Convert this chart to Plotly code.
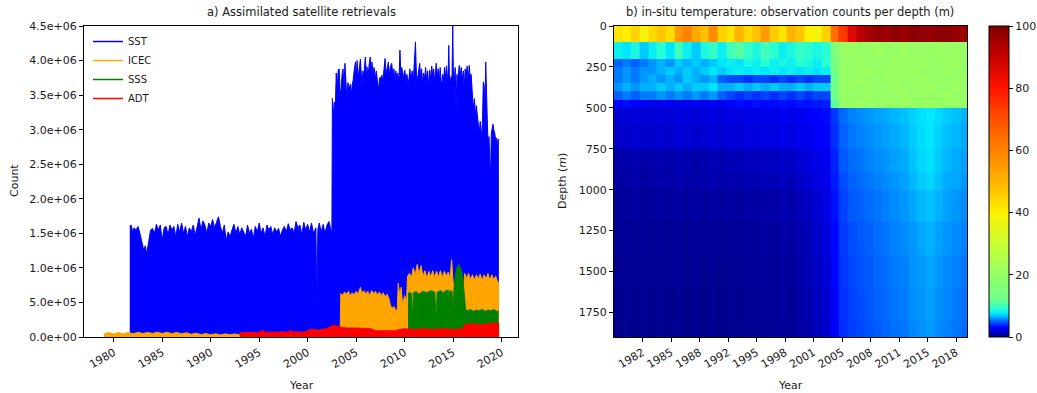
import plotly.graph_objects as go

W, H = 1037, 393

# ---------------- data: panel a (counts, in millions) ----------------
SST_T = [1981.65, 1981.8, 1981.95, 1982.1, 1982.3, 1982.5, 1982.7, 1982.9, 1983.1, 1983.25, 1983.4, 1983.6,
         1983.8, 1984.0, 1984.2, 1984.4, 1984.6, 1984.8, 1985.0, 1985.2, 1985.4, 1985.6, 1985.8, 1986.0,
         1986.2, 1986.4, 1986.6, 1986.8, 1987.0, 1987.2, 1987.4, 1987.6, 1987.8, 1988.0, 1988.2, 1988.4,
         1988.6, 1988.8, 1989.0, 1989.2, 1989.4, 1989.6, 1989.8, 1990.0, 1990.2, 1990.4, 1990.6, 1990.8,
         1991.0, 1991.2, 1991.4, 1991.6, 1991.8, 1992.0, 1992.2, 1992.4, 1992.6, 1992.8, 1993.0, 1993.2,
         1993.4, 1993.6, 1993.8, 1994.0, 1994.2, 1994.4, 1994.6, 1994.8, 1995.0, 1995.2, 1995.4, 1995.6,
         1995.8, 1996.0, 1996.2, 1996.4, 1996.6, 1996.8, 1997.0, 1997.2, 1997.4, 1997.6, 1997.8, 1998.0,
         1998.2, 1998.4, 1998.6, 1998.8, 1999.0, 1999.2, 1999.4, 1999.6, 1999.8, 2000.0, 2000.2, 2000.4,
         2000.6, 2000.85, 2000.95, 2001.05, 2001.2, 2001.4, 2001.6, 2001.8, 2002.0, 2002.2, 2002.4, 2002.5,
         2002.55, 2002.65, 2002.75, 2002.85, 2002.95, 2003.05, 2003.15, 2003.25, 2003.35, 2003.45, 2003.55,
         2003.65, 2003.75, 2003.85, 2003.95, 2004.05, 2004.15, 2004.3, 2004.42, 2004.5, 2004.6, 2004.7,
         2004.8, 2004.93, 2005.02, 2005.1, 2005.2, 2005.3, 2005.44, 2005.52, 2005.61, 2005.7, 2005.8,
         2005.95, 2006.05, 2006.12, 2006.22, 2006.35, 2006.46, 2006.55, 2006.63, 2006.75, 2006.85, 2006.97,
         2007.08, 2007.2, 2007.31, 2007.4, 2007.48, 2007.58, 2007.65, 2007.75, 2007.85, 2007.99, 2008.08,
         2008.2, 2008.33, 2008.42, 2008.52, 2008.67, 2008.78, 2008.9, 2009.0, 2009.1, 2009.18, 2009.3,
         2009.42, 2009.52, 2009.62, 2009.72, 2009.85, 2010.03, 2010.13, 2010.25, 2010.37, 2010.46, 2010.54,
         2010.65, 2010.78, 2010.9, 2011.0, 2011.12, 2011.22, 2011.3, 2011.39, 2011.48, 2011.56, 2011.66,
         2011.76, 2011.86, 2011.96, 2012.07, 2012.17, 2012.28, 2012.38, 2012.48, 2012.59, 2012.7, 2012.8,
         2012.9, 2013.0, 2013.1, 2013.18, 2013.27, 2013.37, 2013.47, 2013.57, 2013.67, 2013.76, 2013.84,
         2013.93, 2014.03, 2014.12, 2014.22, 2014.32, 2014.42, 2014.5, 2014.56, 2014.62, 2014.7, 2014.8,
         2014.9, 2014.97, 2015.03, 2015.12, 2015.22, 2015.31, 2015.4, 2015.5, 2015.58, 2015.65, 2015.75,
         2015.85, 2015.95, 2016.05, 2016.15, 2016.25, 2016.35, 2016.45, 2016.55, 2016.67, 2016.77, 2016.87,
         2017.01, 2017.1, 2017.2, 2017.3, 2017.4, 2017.52, 2017.6, 2017.7, 2017.8, 2017.88, 2017.96,
         2018.05, 2018.12, 2018.2, 2018.3, 2018.37, 2018.45, 2018.55, 2018.63, 2018.71, 2018.8, 2018.88,
         2018.95, 2019.05, 2019.12, 2019.2, 2019.3, 2019.39, 2019.5, 2019.6, 2019.73]
SST_V = [1.60, 1.62, 1.52, 1.58, 1.55, 1.60, 1.50, 1.35, 1.25, 1.32, 1.20, 1.38,
         1.55, 1.57, 1.50, 1.63, 1.55, 1.62, 1.40, 1.58, 1.60, 1.48, 1.62, 1.55,
         1.60, 1.45, 1.63, 1.52, 1.65, 1.50, 1.60, 1.45, 1.58, 1.52, 1.62, 1.47,
         1.58, 1.72, 1.55, 1.68, 1.62, 1.50, 1.65, 1.60, 1.70, 1.58, 1.66, 1.74,
         1.60, 1.50, 1.62, 1.40, 1.52, 1.45, 1.55, 1.63, 1.50, 1.60, 1.48, 1.58,
         1.52, 1.45, 1.62, 1.50, 1.56, 1.43, 1.60, 1.52, 1.65, 1.50, 1.58, 1.45,
         1.62, 1.55, 1.60, 1.48, 1.58, 1.52, 1.57, 1.46, 1.55, 1.60, 1.52, 1.64,
         1.55, 1.58, 1.50, 1.67, 1.58, 1.62, 1.48, 1.66, 1.55, 1.63, 1.52, 1.65,
         1.50, 1.58, 0.40, 1.55, 1.65, 1.52, 1.63, 1.50, 1.62, 1.67, 1.55, 1.50,
         3.45, 3.22, 3.40, 3.30, 3.82, 3.60, 3.86, 3.88, 3.55, 3.57, 3.80,
         3.88, 3.62, 3.96, 3.70, 3.43, 3.68, 3.60, 3.66, 3.50, 3.65, 3.72,
         3.85, 3.98, 3.75, 4.00, 3.78, 3.85, 4.02, 3.80, 3.62, 3.85, 3.78,
         4.05, 3.80, 3.91, 3.75, 3.95, 4.05, 3.82, 3.98, 3.80, 3.90, 3.74,
         3.85, 3.70, 3.57, 3.72, 3.76, 3.65, 3.79, 3.70, 3.88, 4.03, 3.80,
         3.92, 3.98, 3.78, 3.90, 3.96, 3.80, 3.88, 3.70, 3.85, 3.74, 3.82,
         3.68, 4.15, 3.80, 3.90, 3.75, 3.86, 3.72, 3.80, 3.64, 3.75, 3.88,
         3.72, 3.85, 3.70, 3.90, 4.27, 3.80, 3.70, 3.79, 3.86, 3.96, 3.75,
         3.88, 3.66, 3.82, 3.74, 3.90, 3.70, 3.85, 3.62, 3.86, 3.72, 3.92,
         3.78, 3.88, 3.70, 3.82, 3.96, 3.75, 3.88, 3.70, 3.90, 3.72, 3.62,
         3.80, 3.72, 3.90, 3.75, 3.92, 3.70, 3.85, 4.22, 3.80, 3.75, 3.69,
         3.80, 4.50, 3.85, 3.70, 3.90, 3.28, 3.80, 3.72, 3.86, 3.93, 3.78,
         3.90, 3.70, 3.85, 3.60, 3.88, 3.75, 3.92, 3.70, 3.93, 3.75, 3.80,
         3.47, 3.30, 3.45, 3.20, 3.35, 3.18, 3.10, 2.95, 3.12, 3.00, 2.89,
         3.20, 3.69, 3.65, 3.40, 3.98, 3.30, 3.05, 2.75, 2.90, 2.50, 2.41,
         2.95, 3.04, 3.08, 3.00, 2.95, 2.85, 2.88, 2.80, 2.87]

ICEC_T = [1979.0, 1979.5, 1980.0, 1980.5, 1981.0, 1981.5, 1982.0, 1982.5, 1983.0, 1983.5, 1984.0, 1984.5,
          1985.0, 1985.5, 1986.0, 1986.5, 1987.0, 1987.5, 1988.0, 1988.5, 1989.0, 1989.5, 1990.0, 1990.5,
          1991.0, 1991.5, 1992.0, 1992.5, 1993.0, 1993.5, 1994.0, 1994.5, 1995.0, 1995.5, 1996.0, 1996.5,
          1997.0, 1997.5, 1998.0, 1998.5, 1999.0, 1999.5, 2000.0, 2000.5, 2001.0, 2001.5, 2002.0, 2002.5,
          2003.0, 2003.35, 2003.42, 2003.6, 2003.8, 2004.0, 2004.2, 2004.4, 2004.6, 2004.8, 2005.0, 2005.2,
          2005.45, 2005.6, 2005.8, 2006.0, 2006.2, 2006.4, 2006.6, 2006.8, 2007.0, 2007.2, 2007.4, 2007.6,
          2007.8, 2008.0, 2008.2, 2008.4, 2008.55, 2008.75, 2008.9, 2009.1, 2009.25, 2009.35, 2009.5, 2009.65,
          2009.8, 2010.0, 2010.2, 2010.3, 2010.5, 2010.7, 2010.9, 2011.1, 2011.3, 2011.5, 2011.7, 2011.9,
          2012.1, 2012.3, 2012.5, 2012.7, 2012.9, 2013.1, 2013.3, 2013.5, 2013.7, 2013.9, 2014.1, 2014.3,
          2014.5, 2014.7, 2014.85, 2014.95, 2015.1, 2015.4, 2015.6, 2015.8, 2016.0, 2016.2, 2016.4, 2016.6,
          2016.8, 2017.0, 2017.2, 2017.4, 2017.6, 2017.8, 2018.0, 2018.2, 2018.4, 2018.6, 2018.8, 2019.0,
          2019.2, 2019.4, 2019.6, 2019.75]
ICEC_V = [0.045, 0.065, 0.042, 0.066, 0.044, 0.064, 0.048, 0.068, 0.050, 0.066, 0.052, 0.070,
          0.050, 0.068, 0.048, 0.066, 0.045, 0.062, 0.040, 0.055, 0.035, 0.050, 0.032, 0.048,
          0.030, 0.046, 0.032, 0.045, 0.030, 0.044, 0.030, 0.042, 0.032, 0.045, 0.030, 0.044,
          0.032, 0.045, 0.030, 0.046, 0.032, 0.048, 0.035, 0.050, 0.040, 0.060, 0.045, 0.080,
          0.060, 0.050, 0.63, 0.60, 0.65, 0.62, 0.66, 0.60, 0.64, 0.61, 0.66, 0.62,
          0.72, 0.63, 0.67, 0.62, 0.66, 0.60, 0.67, 0.63, 0.66, 0.61, 0.65, 0.60,
          0.64, 0.58, 0.62, 0.55, 0.45, 0.42, 0.44, 0.38, 0.40, 0.78, 0.60, 0.72,
          0.45, 0.60, 0.50, 0.88, 0.92, 0.86, 1.00, 0.90, 1.05, 0.92, 1.03, 0.88,
          0.96, 0.85, 0.95, 0.87, 0.96, 0.86, 0.95, 0.87, 0.96, 0.86, 0.95, 0.88,
          0.94, 0.86, 1.12, 0.88, 0.62, 0.60, 0.55, 0.62, 0.58, 0.92, 0.85, 0.92,
          0.83, 0.90, 0.82, 0.90, 0.84, 0.91, 0.82, 0.90, 0.84, 0.92, 0.82, 0.90,
          0.83, 0.88, 0.80, 0.78]

SSS_T = [2010.35, 2010.5, 2010.7, 2010.8, 2010.9, 2011.2, 2011.45, 2011.5, 2011.55, 2011.9, 2012.3,
         2012.7, 2013.1, 2013.3, 2013.35, 2013.7, 2014.0, 2014.05, 2014.1, 2014.5, 2014.6, 2014.65,
         2014.9, 2015.0, 2015.1, 2015.3, 2015.45, 2015.6, 2015.75, 2015.9, 2016.0, 2016.15, 2016.3,
         2016.5, 2016.8, 2017.1, 2017.4, 2017.7, 2018.0, 2018.3, 2018.6, 2018.9, 2019.2, 2019.5, 2019.7]
SSS_V = [0.62, 0.65, 0.63, 0.15, 0.64, 0.66, 0.62, 0.10, 0.63, 0.66, 0.64,
         0.67, 0.65, 0.20, 0.65, 0.67, 0.64, 0.15, 0.66, 0.68, 0.10, 0.67,
         0.66, 0.20, 0.70, 0.95, 1.02, 1.05, 1.00, 0.95, 0.85, 0.60, 0.40,
         0.38, 0.40, 0.37, 0.39, 0.38, 0.40, 0.37, 0.39, 0.38, 0.40, 0.37, 0.38]

ADT_T = [1993.0, 1993.5, 1994.0, 1994.5, 1995.0, 1995.4, 1995.5, 1996.0, 1996.5, 1997.0, 1997.5, 1998.0,
         1998.3, 1998.4, 1999.0, 1999.5, 2000.0, 2000.05, 2000.5, 2001.0, 2001.5, 2002.0, 2002.3, 2002.8,
         2003.2, 2003.6, 2004.0, 2005.0, 2006.0, 2006.5, 2007.0, 2008.0, 2009.0, 2009.5, 2010.0, 2011.0,
         2012.0, 2013.0, 2014.0, 2015.0, 2016.0, 2016.2, 2017.0, 2018.0, 2019.0, 2019.75]
ADT_V = [0.060, 0.070, 0.065, 0.070, 0.065, 0.100, 0.070, 0.070, 0.065, 0.070, 0.075, 0.070,
         0.100, 0.070, 0.075, 0.070, 0.080, 0.100, 0.110, 0.100, 0.110, 0.120, 0.150, 0.170,
         0.150, 0.140, 0.130, 0.130, 0.130, 0.120, 0.090, 0.090, 0.090, 0.110, 0.120, 0.110,
         0.120, 0.110, 0.120, 0.110, 0.120, 0.180, 0.190, 0.180, 0.200, 0.200]

SERIES = [("SST", SST_T, SST_V, "#0000ff"),
          ("ICEC", ICEC_T, ICEC_V, "#ffa500"),
          ("SSS", SSS_T, SSS_V, "#008000"),
          ("ADT", ADT_T, ADT_V, "#ff0000")]

Y_TICKS = [0, 0.5e6, 1.0e6, 1.5e6, 2.0e6, 2.5e6, 3.0e6, 3.5e6, 4.0e6, 4.5e6]
Y_TICK_TEXT = ["0.0e+00", "5.0e+05", "1.0e+06", "1.5e+06", "2.0e+06", "2.5e+06",
               "3.0e+06", "3.5e+06", "4.0e+06", "4.5e+06"]
X_TICKS = [1980, 1985, 1990, 1995, 2000, 2005, 2010, 2015, 2020]

# ---------------- data: panel b (observation counts per depth) ----------------
HEAT_YEAR_EDGES = list(range(1979, 2021))          # 41 yearly columns
DEPTH_EDGES = [0, 100, 200, 250, 300, 350, 400, 450, 500, 600, 750, 900, 1000, 1200, 1400, 1600, 1800, 1900]

R_0_100 = [42, 40, 45, 38, 44, 47, 43, 55, 60, 52, 48, 58, 45, 42, 50, 44, 48, 55, 46, 42, 50, 47, 40, 38, 45,
           64, 74, 86, 92, 95, 97, 96, 98, 97, 99, 98, 97, 99, 98, 97, 96]
R_100_200 = [8, 7.5, 8.5, 7, 8, 9, 7.5, 10, 8, 7, 8.5, 9.5, 8, 10, 11, 9.5, 8.5, 10, 9, 8, 8.5, 9.5, 9, 8.5, 9,
             15, 20, 21, 20, 20, 21, 20, 20, 21, 20, 20, 20, 21, 20, 20, 20]
R_200_250 = [5, 5.5, 5, 5.5, 6, 6.5, 6, 7, 6.5, 7, 6.5, 7, 7.5, 8, 7.5, 8.5, 8, 9, 8, 8.5, 8, 9, 8.5, 8, 9,
             14, 20, 20, 21, 20, 20, 20, 21, 20, 20, 21, 20, 20, 20, 21, 20]
R_250_300 = [5.5, 6, 5.5, 6, 6, 6.5, 7, 6.5, 7, 6.5, 7, 7.5, 7, 7.5, 8, 7.5, 8, 7.5, 8, 7.5, 8, 7.5, 8, 7.5, 8,
             13, 20, 20, 20, 21, 20, 20, 20, 20, 21, 20, 20, 20, 21, 20, 20]
R_300_350 = [5.5, 6, 5.5, 6, 6.5, 6, 6.5, 6, 7, 6.5, 6, 6.5, 5, 4.5, 4.5, 4, 4.5, 4.5, 4, 4.5, 4, 4.5, 4, 4.5, 4.5,
             12, 20, 20, 21, 20, 20, 21, 20, 20, 20, 21, 20, 20, 20, 20, 21]
R_350_400 = [6, 6.5, 6, 6.5, 6.5, 7, 6.5, 7, 6.5, 7, 7, 7.5, 6.5, 6.5, 7, 6.5, 7, 6.5, 7, 6.5, 6.5, 7, 6.5, 7, 7,
             13, 20, 21, 20, 20, 20, 20, 21, 20, 20, 20, 21, 20, 20, 21, 20]
R_400_450 = [5, 5.5, 5, 5.5, 5.5, 6, 5.5, 6, 5.5, 6, 5.5, 6, 5, 4.5, 4, 4.5, 4, 4.5, 4, 4.5, 4, 4.5, 4, 4.5, 4.5,
             12, 20, 20, 20, 21, 20, 20, 20, 21, 20, 20, 20, 20, 21, 20, 20]
R_450_500 = [3, 3.2, 3, 2.8, 2.5, 2.5, 2.6, 2.4, 2.5, 2.6, 2.5, 2.7, 2.6, 3, 3.2, 3, 3.3, 3.1, 3.2, 3.3, 3.2, 3.4, 3.3, 3.5, 3.6,
             11, 20, 20, 21, 20, 20, 20, 20, 21, 20, 20, 21, 20, 20, 20, 20]
R_500_600 = [1.8, 1.9, 2, 1.8, 1.9, 2, 1.9, 2.1, 2, 1.9, 2, 2.1, 2, 2.2, 2.1, 2.3, 2.2, 2.4, 2.3, 2.5, 2.4, 2.6, 2.8, 3, 3.2,
             4.2, 5.2, 5.6, 5.8, 6, 6.2, 6.4, 6.6, 6.8, 7.1, 7.4, 7.6, 7.3, 7, 6.8, 6.6]
R_600_750 = [1.6, 1.7, 1.8, 1.6, 1.7, 1.8, 1.7, 1.9, 1.8, 1.7, 1.8, 1.9, 1.8, 2, 1.9, 2.1, 2, 2.2, 2.1, 2.3, 2.2, 2.4, 2.6, 2.8, 3,
             4, 5, 5.4, 5.6, 5.8, 6, 6.2, 6.4, 6.6, 7, 7.3, 7.5, 7.1, 6.8, 6.6, 6.4]
R_750_900 = [0.9, 1, 1.1, 0.9, 1, 1.1, 1, 1.2, 1.1, 1, 1.1, 1.2, 1.1, 1.3, 1.2, 1.4, 1.3, 1.5, 1.4, 1.6, 1.5, 1.8, 2, 2.3, 2.6,
             3.7, 4.8, 5.2, 5.4, 5.6, 5.8, 6, 6.2, 6.4, 6.8, 7.2, 7.4, 7, 6.6, 6.4, 6.2]
R_900_1000 = [0.8, 0.9, 1, 0.8, 0.9, 1, 0.9, 1.1, 1, 0.9, 1, 1.1, 1, 1.1, 1, 1.2, 1.1, 1.3, 1.2, 1.4, 1.3, 1.6, 1.8, 2.1, 2.4,
              3.5, 4.6, 5, 5.2, 5.4, 5.6, 5.8, 6, 6.2, 6.6, 7, 7.2, 6.8, 6.4, 6.3, 6]
R_1000_1200 = [0.6, 0.7, 0.8, 0.6, 0.7, 0.8, 0.7, 0.8, 0.7, 0.8, 0.7, 0.8, 0.7, 0.8, 0.7, 0.9, 0.8, 1, 0.9, 1.1, 1, 1.3, 1.5, 1.8, 2.2,
               3.3, 4.4, 4.8, 5, 5.2, 5.4, 5.6, 5.8, 6, 6.3, 6.6, 6.8, 6.5, 6.2, 6, 5.8]
R_1200_1400 = [0.5, 0.6, 0.5, 0.6, 0.5, 0.6, 0.5, 0.6, 0.5, 0.6, 0.5, 0.6, 0.5, 0.6, 0.5, 0.7, 0.6, 0.8, 0.7, 0.9, 0.8, 1.1, 1.3, 1.6, 2,
               3.1, 4.2, 4.6, 4.8, 5, 5.2, 5.4, 5.6, 5.8, 6, 6.3, 6.5, 6.2, 6, 5.8, 5.6]
R_1400_1600 = [0.4, 0.5, 0.4, 0.5, 0.4, 0.5, 0.4, 0.5, 0.4, 0.5, 0.4, 0.5, 0.4, 0.5, 0.4, 0.6, 0.5, 0.7, 0.6, 0.8, 0.7, 1, 1.2, 1.5, 1.9,
               3, 4.1, 4.5, 4.7, 4.9, 5.1, 5.3, 5.5, 5.6, 5.9, 6.1, 6.3, 6, 5.8, 5.6, 5.4]
R_1600_1800 = [0.35, 0.45, 0.35, 0.45, 0.35, 0.45, 0.35, 0.45, 0.35, 0.45, 0.35, 0.45, 0.35, 0.45, 0.35, 0.55, 0.45, 0.6, 0.55, 0.7,
               0.6, 0.9, 1.1, 1.4, 1.8, 2.9, 4, 4.4, 4.6, 4.8, 5, 5.2, 5.4, 5.5, 5.8, 6, 6.2, 5.9, 5.7, 5.5, 5.3]
R_1800_1900 = [0.3, 0.4, 0.3, 0.4, 0.3, 0.4, 0.3, 0.4, 0.3, 0.4, 0.3, 0.4, 0.3, 0.4, 0.3, 0.5, 0.4, 0.5, 0.5, 0.6,
               0.5, 0.8, 1, 1.3, 1.7, 2.8, 3.9, 4.3, 4.5, 4.7, 4.9, 5.1, 5.3, 5.4, 5.7, 5.9, 6.1, 5.8, 5.6, 5.4, 5.2]

HEAT_Z = [R_0_100, R_100_200, R_200_250, R_250_300, R_300_350, R_350_400, R_400_450, R_450_500,
          R_500_600, R_600_750, R_750_900, R_900_1000, R_1000_1200, R_1200_1400, R_1400_1600,
          R_1600_1800, R_1800_1900]

HEAT_TICK_LABELS = ["1982", "1985", "1988", "1992", "1995", "1998", "2001", "2005", "2008", "2011", "2015", "2018"]
DEPTH_TICKS = [0, 250, 500, 750, 1000, 1250, 1500, 1750]
CBAR_TICKS = [0, 20, 40, 60, 80, 100]

# custom jet-like colorscale (compressed at the low end)
COLORSCALE = [
    [0.00, "rgb(0,0,128)"], [0.01, "rgb(0,0,170)"], [0.02, "rgb(0,0,220)"], [0.03, "rgb(0,0,255)"],
    [0.045, "rgb(0,70,255)"], [0.06, "rgb(0,150,255)"], [0.075, "rgb(0,230,255)"],
    [0.09, "rgb(40,255,210)"], [0.12, "rgb(110,255,140)"], [0.20, "rgb(150,255,100)"],
    [0.30, "rgb(200,255,50)"], [0.40, "rgb(255,240,0)"], [0.50, "rgb(255,180,0)"],
    [0.60, "rgb(255,130,0)"], [0.70, "rgb(255,80,0)"], [0.80, "rgb(255,20,0)"],
    [0.90, "rgb(200,0,0)"], [1.00, "rgb(128,0,0)"]]


def fx(px):
    return px / W


def fy(py):
    return 1 - py / H


FONT = "DejaVu Sans"
TXT = "#1a1a1a"

fig = go.Figure()

for name, t, v, color in SERIES:
    fig.add_trace(go.Scatter(x=t, y=[val * 1e6 for val in v], mode="lines",
                             line=dict(color=color, width=1), fill="tozeroy", fillcolor=color,
                             showlegend=False, hoverinfo="skip", xaxis="x", yaxis="y"))
for name, t, v, color in SERIES:
    fig.add_trace(go.Scatter(x=[None], y=[None], mode="lines", name=name,
                             line=dict(color=color, width=1.5), xaxis="x", yaxis="y"))

# heatmap tick positions: evenly spaced along the time axis
h_start, h_end = 1979.05, 2019.8
h_step = 3.29
heat_tickvals = [1979.07 + h_step * (k + 1) for k in range(len(HEAT_TICK_LABELS))]

fig.add_trace(go.Heatmap(
    x=HEAT_YEAR_EDGES, y=DEPTH_EDGES, z=HEAT_Z, zmin=0, zmax=100,
    colorscale=COLORSCALE, xaxis="x2", yaxis="y2", hoverinfo="skip",
    colorbar=dict(x=fx(989), xanchor="left", y=(fy(337) + fy(26)) / 2, yanchor="middle",
                  len=311, lenmode="pixels", thickness=20, thicknessmode="pixels",
                  outlinewidth=1, outlinecolor="black", ticks="outside", ticklen=4,
                  tickcolor="black", tickvals=CBAR_TICKS, xpad=0, ypad=0,
                  tickfont=dict(family=FONT, size=11, color=TXT))))

axis_common = dict(showline=True, linecolor="black", linewidth=1, mirror=True, ticks="outside",
                   ticklen=4, tickcolor="black", showgrid=False, zeroline=False,
                   tickfont=dict(family=FONT, size=11, color=TXT))

fig.update_layout(
    width=W, height=H, margin=dict(l=0, r=0, t=0, b=0, autoexpand=False),
    paper_bgcolor="white", plot_bgcolor="white",
    xaxis=dict(domain=[fx(84), fx(518)], range=[1976.93, 2021.7], anchor="y",
               tickvals=X_TICKS, ticktext=[str(x) for x in X_TICKS], tickangle=-30, **axis_common),
    yaxis=dict(domain=[fy(337), fy(26)], range=[0, 4.5e6], anchor="x",
               tickvals=Y_TICKS, ticktext=Y_TICK_TEXT, **axis_common),
    xaxis2=dict(domain=[fx(614), fx(967)], range=[h_start, h_end], anchor="y2",
                tickvals=heat_tickvals, ticktext=HEAT_TICK_LABELS, tickangle=-30, **axis_common),
    yaxis2=dict(domain=[fy(337), fy(26)], range=[1900, 0], anchor="x2",
                tickvals=DEPTH_TICKS, ticktext=[str(d) for d in DEPTH_TICKS], **axis_common),
    legend=dict(x=fx(88), y=fy(27), xanchor="left", yanchor="top", bgcolor="rgba(0,0,0,0)",
                font=dict(family=FONT, size=10, color=TXT), tracegroupgap=0),
    annotations=[
        dict(text="a) Assimilated satellite retrievals", x=fx(301), y=fy(12), xref="paper", yref="paper",
             showarrow=False, xanchor="center", yanchor="middle", font=dict(family=FONT, size=11.5, color=TXT)),
        dict(text="b) in-situ temperature: observation counts per depth (m)", x=fx(790), y=fy(12),
             xref="paper", yref="paper", showarrow=False, xanchor="center", yanchor="middle",
             font=dict(family=FONT, size=11.5, color=TXT)),
        dict(text="Year", x=fx(301), y=fy(385), xref="paper", yref="paper", showarrow=False,
             xanchor="center", yanchor="middle", font=dict(family=FONT, size=11, color=TXT)),
        dict(text="Year", x=fx(790), y=fy(385), xref="paper", yref="paper", showarrow=False,
             xanchor="center", yanchor="middle", font=dict(family=FONT, size=11, color=TXT)),
        dict(text="Count", x=fx(14), y=fy(181), xref="paper", yref="paper", showarrow=False, textangle=-90,
             xanchor="center", yanchor="middle", font=dict(family=FONT, size=11, color=TXT)),
        dict(text="Depth (<i>m</i>)", x=fx(562), y=fy(181), xref="paper", yref="paper", showarrow=False,
             textangle=-90, xanchor="center", yanchor="middle", font=dict(family=FONT, size=11, color=TXT)),
    ],
)

fig.write_html("out.html")
